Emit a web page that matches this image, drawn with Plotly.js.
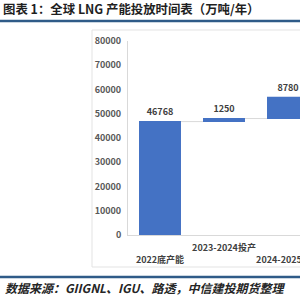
<!DOCTYPE html>
<html>
<head>
<meta charset="utf-8">
<script src="https://cdn.plot.ly/plotly-3.0.1.min.js"></script>
<style>html,body{margin:0;padding:0;background:#fff;overflow:hidden}#chart{width:300px;height:300px}</style>
</head>
<body>
<div id="chart"></div>
<script>
var categories = ["2022底产能", "2023-2024投产", "2024-2025投产"];
var tickLabels = ["&nbsp;<br>2022底产能", "2023-2024投产<br>&nbsp;", "&nbsp;<br>2024-2025投产"];
var measures = ["absolute", "relative", "relative"];
var values = [46768, 1250, 8780];
var labels = ["46768", "1250", "8780"];
var yTicks = [0, 10000, 20000, 30000, 40000, 50000, 60000, 70000, 80000];

var font = "'Noto Sans CJK SC', 'Noto Sans', sans-serif";
var blue = "#4472C4";

var trace = {
  type: "waterfall",
  x: [0, 1, 2],
  y: values,
  measure: measures,
  text: labels,
  textposition: "outside",
  textfont: {family: font, size: 9, color: "#404040", weight: "bold"},
  increasing: {marker: {color: blue}},
  decreasing: {marker: {color: blue}},
  totals: {marker: {color: blue}},
  connector: {line: {color: "#d9d9d9", width: 1}},
  hoverinfo: "none",
  cliponaxis: true
};

// pixel helpers -> paper coordinates (plot area: x 128..300, y 41..235)
function px(x) { return (x - 128) / 172; }
function py(y) { return (235 - y) / 194; }

var layout = {
  width: 300, height: 300,
  margin: {l: 128, r: 0, t: 41, b: 65, pad: 0},
  paper_bgcolor: "#ffffff",
  plot_bgcolor: "#ffffff",
  showlegend: false,
  waterfallgap: 0.344,
  title: {
    text: "<b>图表 1：全球 LNG 产能投放时间表（万吨/年）</b>",
    font: {family: font, size: 12.4, color: "#1f1f1f"},
    x: 3 / 300, xanchor: "left", xref: "container",
    y: 1 - 9.5 / 300, yanchor: "middle", yref: "container"
  },
  xaxis: {
    range: [-0.5, 2.1875],
    tickmode: "array",
    tickvals: [0, 1, 2],
    ticktext: tickLabels,
    tickangle: 0,
    ticks: "",
    showgrid: false,
    zeroline: false,
    showline: true,
    linecolor: "#d9d9d9",
    linewidth: 1,
    ticklabeloverflow: "allow",
    ticklabelstandoff: 4,
    tickfont: {family: font, size: 9, color: "#404040", weight: "bold"},
    fixedrange: true
  },
  yaxis: {
    range: [0, 80000],
    tickmode: "array",
    tickvals: yTicks,
    ticktext: yTicks.map(String),
    ticks: "",
    showgrid: false,
    zeroline: false,
    showline: true,
    linecolor: "#d9d9d9",
    linewidth: 1,
    ticklabelstandoff: 4,
    tickfont: {family: font, size: 9, color: "#595959", weight: "bold"},
    fixedrange: true
  },
  shapes: [
    {type: "rect", xref: "paper", yref: "paper", x0: px(92), x1: px(320), y0: py(267), y1: py(30),
     line: {color: "#e3e3e3", width: 1}, fillcolor: "rgba(0,0,0,0)", layer: "below"},
    {type: "line", xref: "paper", yref: "paper", x0: px(0), x1: px(300), y0: py(21), y1: py(21),
     line: {color: "#2f5b88", width: 2.5}},
    {type: "line", xref: "paper", yref: "paper", x0: px(0), x1: px(300), y0: py(277), y1: py(277),
     line: {color: "#2f5b88", width: 2.5}}
  ],
  annotations: [
    {text: "<b><i>数据来源：GIIGNL、IGU、路透，中信建投期货整理</i></b>",
     xref: "paper", yref: "paper", x: px(3), y: py(287), xanchor: "left", yanchor: "middle",
     showarrow: false, font: {family: font, size: 12, color: "#262626"}}
  ]
};

Plotly.newPlot("chart", [trace], layout, {staticPlot: true, displayModeBar: false});
</script>
</body>
</html>
